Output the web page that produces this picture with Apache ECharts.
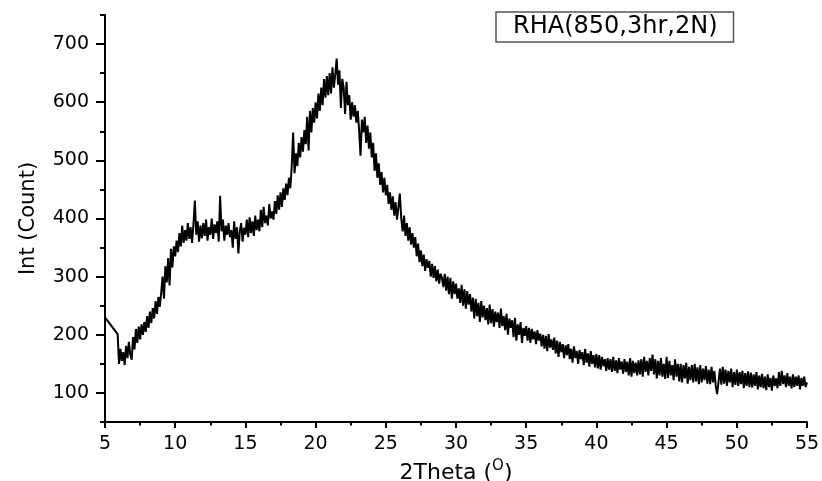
<!DOCTYPE html>
<html><head><meta charset="utf-8">
<script src="https://cdn.jsdelivr.net/npm/echarts@6/dist/echarts.min.js"></script>
<style>html,body{margin:0;padding:0;background:#fff}#c{width:822px;height:481px}</style>
</head><body><div id="c"></div>
<script>
const seriesName = 'RHA(850,3hr,2N)';
const xAxisTitle = '2Theta';
const xAxisUnit = 'O';
const yAxisTitle = 'Int (Count)';

// first two readings (thin straight segment before the scan noise)
const leadTheta = [5.0, 5.9];
const leadIntensity = [230, 201];

// scan: 2Theta from 6.0 in 0.1 degree steps
const scanStart = 6.0;
const scanStep = 0.1;
const scanIntensity = [
  150, 176, 155, 170, 148, 181, 160, 188, 166, 157,
  196, 175, 210, 186, 214, 192, 218, 200, 222, 205,
  232, 212, 240, 220, 246, 228, 258, 236, 265, 248,
  272, 300, 262, 318, 290, 332, 285, 348, 316, 352,
  335, 362, 342, 375, 352, 388, 358, 380, 362, 392,
  365, 385, 358, 390, 431, 372, 395, 360, 388, 366,
  392, 370, 398, 362, 385, 372, 400, 365, 390, 375,
  395, 360, 439, 378, 398, 362, 388, 372, 392, 368,
  380, 350, 395, 365, 385, 340, 378, 392, 360, 384,
  372, 398, 368, 402, 375, 395, 370, 405, 380, 398,
  378, 415, 385, 420, 392, 405, 388, 425, 400, 412,
  398, 430, 408, 440, 415, 445, 420, 452, 432, 460,
  440, 470, 452, 490, 548, 478, 512, 490, 530, 505,
  540, 515, 552, 528, 575, 517, 585, 548, 590, 565,
  600, 572, 615, 585, 625, 595, 640, 608, 645, 612,
  650, 615, 660, 625, 648, 675, 630, 655, 590, 640,
  625, 580, 635, 595, 612, 570, 600, 575, 595, 565,
  585, 552, 508, 570, 548, 575, 530, 560, 520, 548,
  505, 530, 482, 512, 470, 495, 458, 480, 445, 470,
  440, 458, 425, 445, 415, 438, 405, 428, 398, 420,
  443, 400, 378, 405, 370, 392, 362, 385, 355, 375,
  350, 368, 335, 357, 325, 345, 318, 338, 310, 330,
  315, 327, 300, 322, 298, 318, 292, 312, 288, 305,
  298, 282, 305, 276, 300, 270, 298, 262, 292, 270,
  288, 262, 280, 255, 286, 250, 278, 245, 275, 252,
  270, 240, 264, 228, 262, 232, 255, 222, 258, 230,
  250, 225, 246, 218, 252, 220, 244, 214, 240, 222,
  238, 212, 245, 215, 232, 208, 236, 200, 228, 212,
  225, 196, 229, 190, 218, 200, 222, 186, 212, 198,
  215, 190, 212, 186, 210, 192, 206, 184, 208, 190,
  202, 180, 200, 176, 198, 172, 201, 178, 192, 174,
  195, 168, 190, 162, 188, 170, 184, 160, 182, 165,
  184, 158, 176, 152, 180, 160, 172, 150, 174, 158,
  170, 148, 176, 152, 168, 145, 172, 150, 165, 144,
  167, 142, 165, 140, 162, 146, 158, 138, 160, 140,
  158, 136, 162, 138, 156, 134, 160, 140, 154, 133,
  158, 136, 154, 130, 160, 128, 155, 134, 152, 130,
  156, 132, 158, 128, 162, 136, 155, 130, 160, 138,
  166, 132, 158, 125, 155, 130, 160, 128, 150, 124,
  162, 126, 155, 130, 148, 122, 158, 128, 150, 120,
  150, 118, 148, 125, 152, 116, 145, 122, 148, 118,
  150, 120, 144, 115, 148, 118, 142, 122, 146, 116,
  140, 115, 145, 118, 138, 112, 98, 120, 142, 114,
  145, 116, 140, 112, 138, 118, 142, 110, 136, 114,
  140, 112, 136, 115, 138, 108, 134, 112, 137, 110,
  135, 109, 132, 112, 136, 106, 130, 110, 133, 108,
  128, 105, 132, 110, 126, 104, 130, 112, 125, 108,
  136, 112, 138, 115, 130, 110, 134, 112, 128, 108,
  132, 110, 128, 112, 130, 106, 126, 112, 128, 110,
  118
];

const yLabelTicks = [100, 200, 300, 400, 500, 600, 700];
const yMinorTicks = [50, 150, 250, 350, 450, 550, 650, 750];

const FONT = 'DejaVu Sans';
const data = leadTheta.map((t, i) => [t, leadIntensity[i]])
  .concat(scanIntensity.map((v, i) => [+(scanStart + i * scanStep).toFixed(2), v]));

const chart = echarts.init(document.getElementById('c'), null, {renderer: 'canvas'});
chart.setOption({
  animation: false,
  backgroundColor: '#fff',
  grid: {left: 105, right: 15, top: 15, bottom: 59, containLabel: false, outerBoundsMode: 'none'},
  legend: {
    show: true,
    data: [seriesName],
    left: 496, top: 12,
    icon: 'none', itemWidth: 0, itemHeight: 0,
    padding: [3, 16, 3, 12],
    borderColor: '#555', borderWidth: 1.5,
    textStyle: {fontFamily: FONT, fontSize: 24, color: '#000'}
  },
  xAxis: {
    type: 'value', min: 5, max: 55, interval: 5,
    name: '{t|' + xAxisTitle + ' (}{s|' + xAxisUnit + '}{t|)}',
    nameLocation: 'middle', nameGap: 35,
    nameTextStyle: {
      rich: {
        t: {fontFamily: FONT, fontSize: 22, color: '#000'},
        s: {fontFamily: FONT, fontSize: 15, color: '#000', padding: [0, 0, 13, 0]}
      }
    },
    axisLine: {lineStyle: {color: '#000', width: 2}},
    axisTick: {show: true, length: 6, lineStyle: {color: '#000', width: 2}},
    minorTick: {show: true, splitNumber: 2, length: 3.5, lineStyle: {color: '#000', width: 2}},
    axisLabel: {fontFamily: FONT, fontSize: 19, color: '#000', margin: 13},
    splitLine: {show: false}
  },
  yAxis: [{
    type: 'value', min: 50, max: 750, interval: 50,
    name: yAxisTitle, nameLocation: 'middle', nameGap: 66,
    nameTextStyle: {fontFamily: FONT, fontSize: 21, color: '#000'},
    axisLine: {show: true, lineStyle: {color: '#000', width: 2}},
    axisTick: {show: true, length: 9, customValues: yLabelTicks, lineStyle: {color: '#000', width: 2}},
    axisLabel: {fontFamily: FONT, fontSize: 19, color: '#000', margin: 16, customValues: yLabelTicks},
    splitLine: {show: false}
  }, {
    type: 'value', min: 50, max: 750, interval: 50, position: 'left',
    axisLine: {show: false},
    axisTick: {show: true, length: 5, customValues: yMinorTicks, lineStyle: {color: '#000', width: 2}},
    axisLabel: {show: false},
    splitLine: {show: false}
  }],
  series: [{
    name: seriesName, type: 'line', data: data,
    xAxisIndex: 0, yAxisIndex: 0,
    showSymbol: false, symbol: 'none', smooth: false,
    lineStyle: {color: '#000', width: 2},
    itemStyle: {color: '#000'}
  }]
});
</script></body></html>
